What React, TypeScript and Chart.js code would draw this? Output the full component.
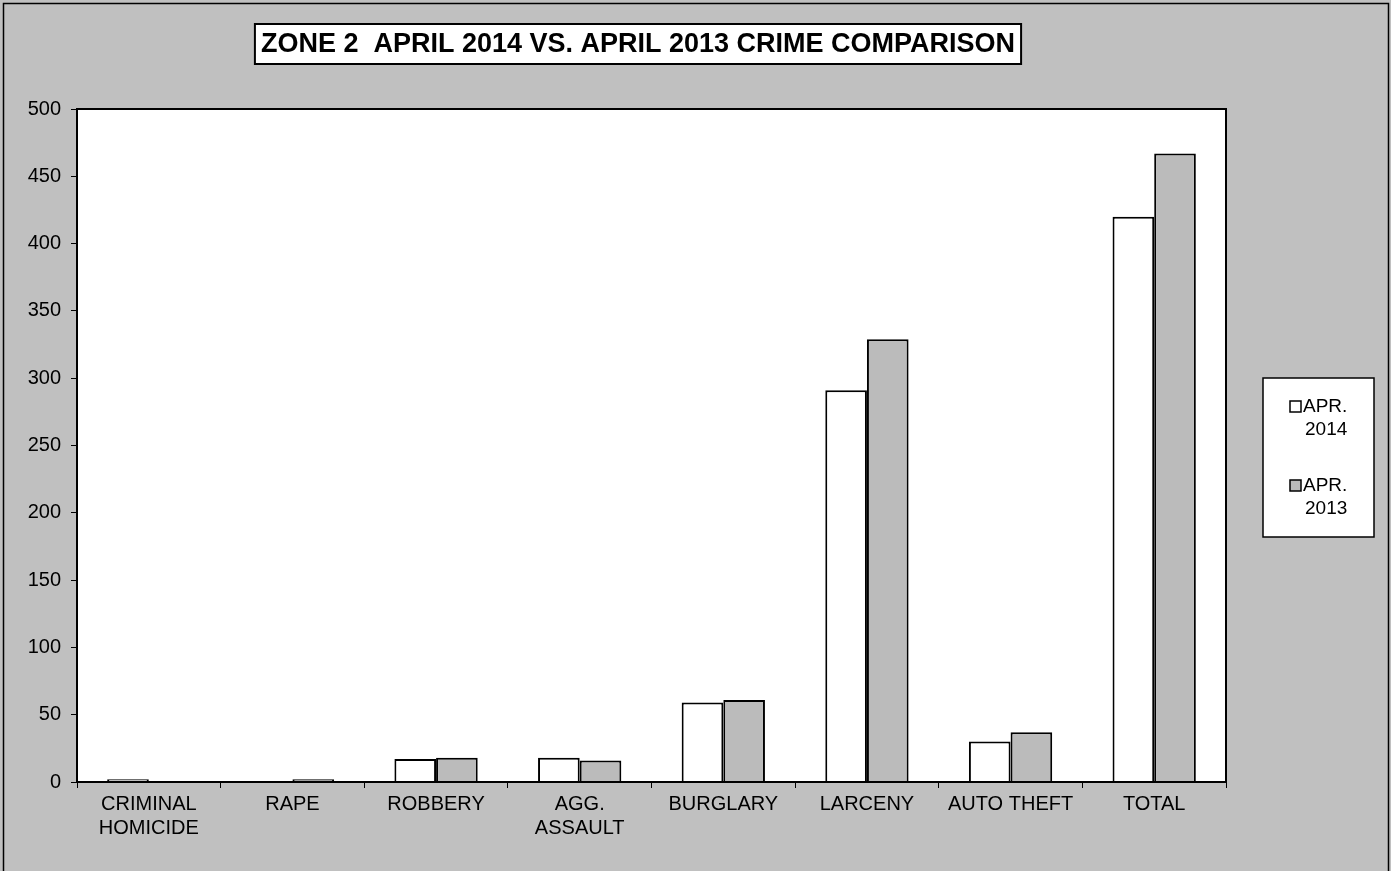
import React, { useEffect, useRef } from "react";
import { Chart, registerables } from "chart.js";

Chart.register(...registerables);

const TITLE = "ZONE 2  APRIL 2014 VS. APRIL 2013 CRIME COMPARISON";
const categories: (string | string[])[] = [
  ["CRIMINAL", "HOMICIDE"],
  "RAPE",
  "ROBBERY",
  ["AGG.", "ASSAULT"],
  "BURGLARY",
  "LARCENY",
  "AUTO THEFT",
  "TOTAL",
];
const apr2014 = [2, 0, 17, 18, 59, 291, 30, 420];
const apr2013 = [0, 2, 18, 16, 61, 329, 37, 467];
const seriesNames = [["APR.", "2014"], ["APR.", "2013"]];
const yTicks = { min: 0, max: 500, step: 50 };

const FONT = "'Liberation Sans', Arial, sans-serif";
const BG = "#c0c0c0";
const BAR2013 = "#bbbbbb";

const framePlugin = {
  id: "frame",
  beforeDraw(chart: any) {
    const { ctx, width, height, chartArea } = chart;
    ctx.save();
    ctx.fillStyle = BG;
    ctx.fillRect(0, 0, width, height);
    ctx.strokeStyle = "#000";
    ctx.lineWidth = 1.5;
    ctx.strokeRect(3.5, 3.5, 1385, 880);
    ctx.fillStyle = "#ffffff";
    ctx.fillRect(chartArea.left, chartArea.top, chartArea.right - chartArea.left, chartArea.bottom - chartArea.top);
    // title box
    ctx.font = `bold 27px ${FONT}`;
    const tw = ctx.measureText(TITLE).width;
    const cx = 638;
    const bw = tw + 12;
    ctx.fillStyle = "#fff";
    ctx.fillRect(cx - bw / 2, 24, bw, 40);
    ctx.lineWidth = 2;
    ctx.strokeStyle = "#000";
    ctx.strokeRect(cx - bw / 2, 24, bw, 40);
    ctx.fillStyle = "#000";
    ctx.textAlign = "center";
    ctx.textBaseline = "middle";
    ctx.fillText(TITLE, cx, 45);
    ctx.restore();
  },
  afterDraw(chart: any) {
    const { ctx, chartArea } = chart;
    ctx.save();
    ctx.strokeStyle = "#000";
    ctx.lineWidth = 2;
    ctx.strokeRect(chartArea.left, chartArea.top, chartArea.right - chartArea.left, chartArea.bottom - chartArea.top);
    // legend
    const lx = 1263, ly = 378, lw = 111, lh = 159;
    ctx.fillStyle = "#fff";
    ctx.fillRect(lx, ly, lw, lh);
    ctx.lineWidth = 1.5;
    ctx.strokeRect(lx, ly, lw, lh);
    ctx.font = `19px ${FONT}`;
    ctx.textBaseline = "middle";
    ctx.textAlign = "left";
    chart.data.datasets.forEach((ds: any, i: number) => {
      const y0 = 407 + i * 79;
      ctx.fillStyle = ds.backgroundColor;
      ctx.fillRect(1290, y0 - 6, 11, 11);
      ctx.strokeStyle = "#000";
      ctx.lineWidth = 1.5;
      ctx.strokeRect(1290, y0 - 6, 11, 11);
      ctx.fillStyle = "#000";
      const lines = seriesNames[i];
      ctx.fillText(lines[0], 1303, y0);
      ctx.fillText(lines[1], 1305, y0 + 23);
    });
    ctx.restore();
  },
};

export default function App() {
  const ref = useRef<HTMLCanvasElement>(null);
  useEffect(() => {
    document.body.style.margin = "0";
    const chart = new Chart(ref.current!, {
      type: "bar",
      data: {
        labels: categories,
        datasets: [
          {
            label: "APR. 2014",
            data: apr2014,
            backgroundColor: "#ffffff",
            borderColor: "#000",
            borderWidth: 2,
            categoryPercentage: 0.58,
            barPercentage: 1.0,
          },
          {
            label: "APR. 2013",
            data: apr2013,
            backgroundColor: BAR2013,
            borderColor: "#000",
            borderWidth: 2,
            categoryPercentage: 0.58,
            barPercentage: 1.0,
          },
        ],
      },
      options: {
        animation: false,
        responsive: false,
        maintainAspectRatio: false,
        layout: { padding: { left: 0, right: 165, top: 109, bottom: 0 } },
        plugins: {
          legend: { display: false },
          title: { display: false },
          tooltip: { enabled: false },
        },
        scales: {
          x: {
            offset: true,
            grid: {
              offset: true,
              drawOnChartArea: false,
              drawTicks: true,
              tickLength: 6,
              color: "#000",
            },
            border: { display: true, color: "#000", width: 2 },
            ticks: {
              color: "#000",
              font: { family: FONT, size: 20, lineHeight: 1.2 },
              maxRotation: 0,
              autoSkip: false,
              padding: 4,
            },
            afterFit(s: any) {
              s.height = 89;
            },
          },
          y: {
            min: yTicks.min,
            max: yTicks.max,
            grid: {
              drawOnChartArea: false,
              drawTicks: true,
              tickLength: 6,
              color: "#000",
            },
            border: { display: true, color: "#000", width: 2 },
            ticks: {
              stepSize: yTicks.step,
              color: "#000",
              font: { family: FONT, size: 20 },
              padding: 10,
            },
            afterFit(s: any) {
              s.width = 77;
            },
          },
        },
      },
      plugins: [framePlugin],
    });
    return () => chart.destroy();
  }, []);
  return (
    <div style={{ position: "fixed", left: 0, top: 0, width: 1391, height: 871 }}>
      <canvas ref={ref} width={1391} height={871} style={{ width: 1391, height: 871 }} />
    </div>
  );
}
